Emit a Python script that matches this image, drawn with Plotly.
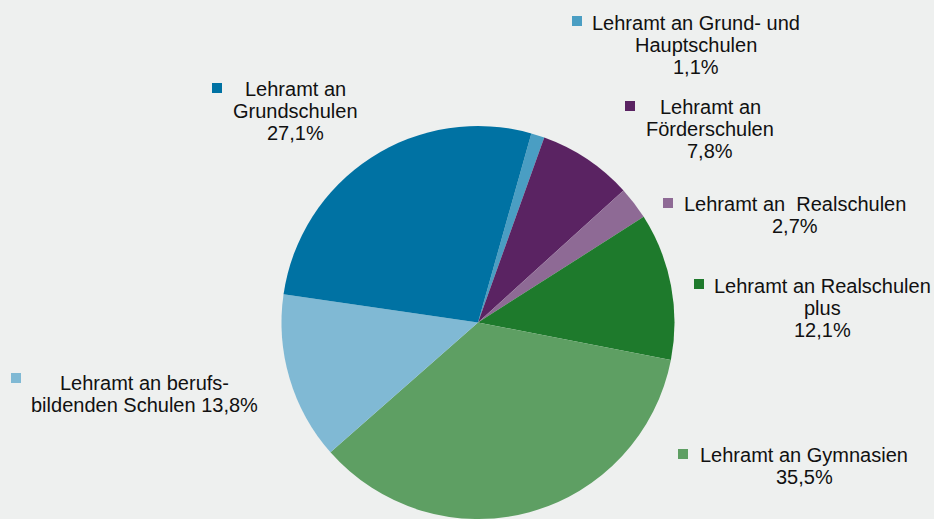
import plotly.graph_objects as go

W, H = 934, 519

categories = [
    "Lehramt an Grund- und Hauptschulen",
    "Lehramt an Förderschulen",
    "Lehramt an Realschulen",
    "Lehramt an Realschulen plus",
    "Lehramt an Gymnasien",
    "Lehramt an berufsbildenden Schulen",
    "Lehramt an Grundschulen",
]
values = [1.1, 7.8, 2.7, 12.1, 35.5, 13.8, 27.1]
label_lines = [
    ["Lehramt an Grund- und", "Hauptschulen", "1,1%"],
    ["Lehramt an", "Förderschulen", "7,8%"],
    ["Lehramt an\u00a0 Realschulen", "2,7%"],
    ["Lehramt an Realschulen", "plus", "12,1%"],
    ["Lehramt an Gymnasien", "35,5%"],
    ["Lehramt an berufs-", "bildenden Schulen 13,8%"],
    ["Lehramt an", "Grundschulen", "27,1%"],
]
colors = ["#4A9EC3", "#5A2362", "#8E6A95", "#1E7A2C", "#5E9F63", "#80B9D4", "#0072A3"]

# layout positions (pixels): text center x, first line y, square center x,y
text_pos = [
    (696, 23, 577, 21),
    (710, 107, 630, 106),
    (795, 204, 668, 203),
    (822, 286, 699, 284),
    (804, 455, 683, 454),
    (144, 383, 16, 378),
    (295, 89, 217, 88),
]
LINE = 22
SQ = 10

def px(x):
    return x / W

def py(y):
    return 1 - y / H

cx, cy, r = 478, 323, 197
fig = go.Figure(go.Pie(
    labels=categories,
    values=values,
    sort=False,
    direction="clockwise",
    rotation=15.75,
    marker=dict(colors=colors, line=dict(width=0)),
    textinfo="none",
    hoverinfo="label+percent",
    showlegend=False,
    domain=dict(x=[px(cx - r), px(cx + r)], y=[max(0, py(cy + r)), py(cy - r)]),
))

annotations = []
shapes = []
for lines, (tx, ty, sx, sy), col in zip(label_lines, text_pos, colors):
    for i, line in enumerate(lines):
        annotations.append(dict(
            x=px(tx), y=py(ty + i * LINE), xref="paper", yref="paper",
            text=line, showarrow=False, xanchor="center", yanchor="middle",
            font=dict(family="Liberation Sans, Arial, sans-serif", size=20, color="#111111"),
        ))
    shapes.append(dict(
        type="rect", xref="paper", yref="paper",
        x0=px(sx - SQ / 2), x1=px(sx + SQ / 2), y0=py(sy + SQ / 2), y1=py(sy - SQ / 2),
        fillcolor=col, line=dict(width=0),
    ))

fig.update_layout(
    width=W, height=H,
    margin=dict(l=0, r=0, t=0, b=0),
    paper_bgcolor="#EEF0EF",
    plot_bgcolor="#EEF0EF",
    annotations=annotations,
    shapes=shapes,
)
fig.write_html(
    "out.html",
    config={"displayModeBar": False},
    post_script="document.body.style.margin='0';document.body.style.padding='0';document.body.style.overflow='hidden';",
)
